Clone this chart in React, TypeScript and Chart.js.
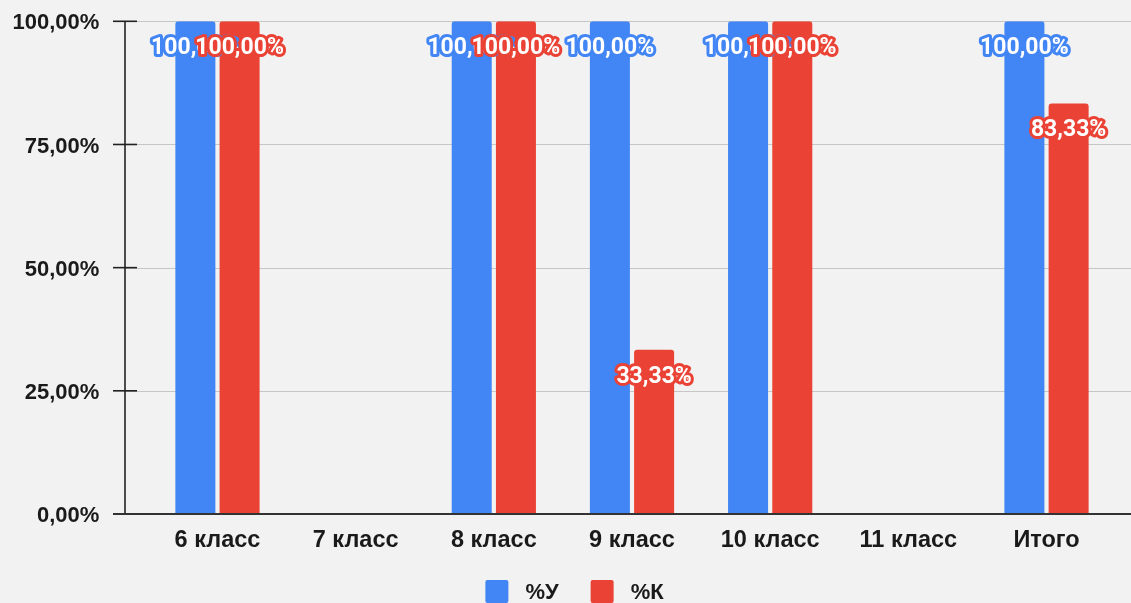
import React, { useEffect, useRef } from "react";
import { Chart, registerables } from "chart.js";

Chart.register(...registerables);

const categories = ["6 класс", "7 класс", "8 класс", "9 класс", "10 класс", "11 класс", "Итого"];
const seriesU: (number | null)[] = [100, null, 100, 100, 100, null, 100];
const seriesK: (number | null)[] = [100, null, 100, 33.33, 100, null, 83.33];
const seriesNames = ["%У", "%К"];
const yTicks = [0, 25, 50, 75, 100];

const BLUE = "#4285f4";
const RED = "#ea4335";
const BG = "#f2f2f2";
const TEXT = "#1a1a1a";
const SANS = "'Liberation Sans', Arial, Helvetica, sans-serif";

const fmt = (v: number) => v.toFixed(2).replace(".", ",") + "%";

const axesPlugin = {
  id: "googleAxes",
  beforeDatasetsDraw(chart: any) {
    const { ctx, scales, width } = chart;
    const y = scales.y;
    const axisX = 125;
    ctx.save();
    ctx.strokeStyle = "#c6c6c6";
    ctx.lineWidth = 1;
    yTicks.forEach((t) => {
      if (t === 0) return;
      const py = Math.round(y.getPixelForValue(t)) + 0.5;
      ctx.beginPath();
      ctx.moveTo(axisX, py);
      ctx.lineTo(width, py);
      ctx.stroke();
    });
    ctx.strokeStyle = "#222";
    ctx.lineWidth = 1.6;
    ctx.beginPath();
    ctx.moveTo(axisX, y.getPixelForValue(100));
    ctx.lineTo(axisX, y.getPixelForValue(0));
    ctx.stroke();
    yTicks.forEach((t) => {
      const py = y.getPixelForValue(t);
      ctx.beginPath();
      ctx.moveTo(113, py);
      ctx.lineTo(137, py);
      ctx.stroke();
    });
    ctx.restore();
  },
  afterDatasetsDraw(chart: any) {
    const { ctx, scales, width } = chart;
    const y = scales.y;
    ctx.save();
    ctx.strokeStyle = "#333";
    ctx.lineWidth = 2;
    const py = y.getPixelForValue(0);
    ctx.beginPath();
    ctx.moveTo(113, py);
    ctx.lineTo(width, py);
    ctx.stroke();
    ctx.restore();
  },
};

const labelsPlugin = {
  id: "barValueLabels",
  afterDatasetsDraw(chart: any) {
    const { ctx } = chart;
    ctx.save();
    ctx.font = "bold 23px Roboto, 'Liberation Sans', sans-serif";
    ctx.textAlign = "center";
    ctx.textBaseline = "middle";
    ctx.lineJoin = "round";
    chart.data.datasets.forEach((ds: any, di: number) => {
      const meta = chart.getDatasetMeta(di);
      meta.data.forEach((bar: any, i: number) => {
        const v = ds.data[i];
        if (v === null || v === undefined) return;
        const text = fmt(v);
        const px = bar.x;
        const py = bar.y + 27;
        ctx.strokeStyle = ds.backgroundColor;
        ctx.lineWidth = 6;
        ctx.strokeText(text, px, py);
        ctx.fillStyle = "#ffffff";
        ctx.fillText(text, px, py);
      });
    });
    ctx.restore();
  },
};

const legendPlugin = {
  id: "bottomLegend",
  afterDraw(chart: any) {
    const { ctx } = chart;
    const box = 23;
    const textGap = 17;
    const itemGap = 32;
    const centerX = 574.5;
    const top = 580;
    ctx.save();
    ctx.font = `bold 22px ${SANS}`;
    ctx.textBaseline = "middle";
    ctx.textAlign = "left";
    const items = chart.data.datasets.map((ds: any) => ({
      text: ds.label as string,
      color: ds.backgroundColor as string,
      w: ctx.measureText(ds.label).width,
    }));
    const total = items.reduce((s: number, it: any, i: number) => s + box + textGap + it.w + (i > 0 ? itemGap : 0), 0);
    let x = centerX - total / 2;
    items.forEach((it: any, i: number) => {
      if (i > 0) x += itemGap;
      ctx.fillStyle = it.color;
      ctx.beginPath();
      ctx.roundRect(x, top, box, box, 2);
      ctx.fill();
      x += box + textGap;
      ctx.fillStyle = TEXT;
      ctx.fillText(it.text, x, top + box / 2 + 1);
      x += it.w;
    });
    ctx.restore();
  },
};

export default function App() {
  const ref = useRef<HTMLCanvasElement | null>(null);
  useEffect(() => {
    document.body.style.margin = "0";
    document.body.style.background = BG;
    if (!ref.current) return;
    const chart = new Chart(ref.current, {
      type: "bar",
      data: {
        labels: categories,
        datasets: [
          {
            label: seriesNames[0],
            data: seriesU,
            backgroundColor: BLUE,
            borderRadius: { topLeft: 3, topRight: 3, bottomLeft: 0, bottomRight: 0 },
            borderSkipped: "bottom",
            categoryPercentage: 0.64,
            barPercentage: 0.905,
          },
          {
            label: seriesNames[1],
            data: seriesK,
            backgroundColor: RED,
            borderRadius: { topLeft: 3, topRight: 3, bottomLeft: 0, bottomRight: 0 },
            borderSkipped: "bottom",
            categoryPercentage: 0.64,
            barPercentage: 0.905,
          },
        ],
      },
      options: {
        animation: false,
        responsive: false,
        maintainAspectRatio: false,
        devicePixelRatio: 1,
        layout: { padding: { top: 21.3, right: 15.4, left: 0, bottom: 53 } },
        plugins: {
          legend: { display: false },
          tooltip: { enabled: false },
        },
        scales: {
          x: {
            grid: { display: false, drawTicks: false },
            border: { display: false },
            ticks: {
              color: TEXT,
              padding: 12,
              maxRotation: 0,
              autoSkip: false,
              font: { family: SANS, size: 23.5, weight: "bold" },
            },
            afterFit: (s: any) => {
              s.height = 36;
            },
          },
          y: {
            min: 0,
            max: 100,
            grid: {
              display: true,
              drawOnChartArea: false,
              drawTicks: true,
              tickLength: 45,
              color: "rgba(0,0,0,0)",
            },
            border: { display: false },
            ticks: {
              stepSize: 25,
              color: TEXT,
              padding: 4,
              labelOffset: 2,
              font: { family: SANS, size: 22, weight: "bold" },
              callback: (v: any) => fmt(Number(v)),
            },
            afterFit: (s: any) => {
              s.width = 148.4;
            },
          },
        },
      },
      plugins: [axesPlugin, labelsPlugin, legendPlugin],
    });
    return () => chart.destroy();
  }, []);
  return (
    <div style={{ width: 1131, height: 603, background: BG }}>
      <canvas ref={ref} width={1131} height={603} style={{ display: "block" }} />
    </div>
  );
}
